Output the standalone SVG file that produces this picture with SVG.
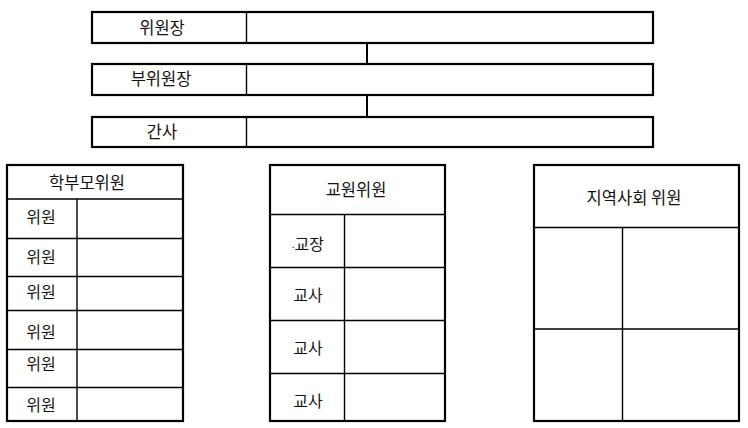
<svg xmlns="http://www.w3.org/2000/svg" width="748" height="428" viewBox="0 0 748 428">
<style>
.outer{fill:#fff;stroke:#000;stroke-width:2.2}
.inner{stroke:#000;stroke-width:1.4;fill:none}
.conn{stroke:#000;stroke-width:2;fill:none}
text{font-family:"Noto Sans CJK KR","Noto Sans",sans-serif;font-size:16px;fill:#111;text-anchor:middle;dominant-baseline:central}
.hd{font-size:16.5px}
.top{font-size:16.5px}
</style>
<rect width="748" height="428" fill="#fff"/>
<g id="connectors">
<line class="conn" x1="367" y1="43" x2="367" y2="64"/>
<line class="conn" x1="367" y1="95" x2="367" y2="117"/>
</g>
<g id="chair">
<rect class="outer" x="92" y="12" width="561" height="31"/>
<line class="inner" x1="246.5" y1="12" x2="246.5" y2="43"/>
<text class="top" x="162" y="26.5">위원장</text>
</g>
<g id="vice-chair">
<rect class="outer" x="92" y="64" width="561" height="31"/>
<line class="inner" x1="246.5" y1="64" x2="246.5" y2="95"/>
<text class="top" x="161" y="78">부위원장</text>
</g>
<g id="secretary">
<rect class="outer" x="92" y="117" width="561" height="30"/>
<line class="inner" x1="246.5" y1="117" x2="246.5" y2="147"/>
<text class="top" x="162" y="130.5">간사</text>
</g>
<g id="parents">
<rect class="outer" x="7" y="165" width="176" height="256"/>
<line class="inner" x1="7" y1="199" x2="183" y2="199"/>
<line class="inner" x1="77" y1="199" x2="77" y2="421"/>
<line class="inner" x1="7" y1="238.5" x2="183" y2="238.5"/>
<line class="inner" x1="7" y1="276.5" x2="183" y2="276.5"/>
<line class="inner" x1="7" y1="310.5" x2="183" y2="310.5"/>
<line class="inner" x1="7" y1="349.5" x2="183" y2="349.5"/>
<line class="inner" x1="7" y1="387.5" x2="183" y2="387.5"/>
<text class="hd" x="87" y="182">학부모위원</text>
<text x="41" y="216">위원</text>
<text x="41" y="256">위원</text>
<text x="41" y="291">위원</text>
<text x="41" y="331">위원</text>
<text x="41" y="363">위원</text>
<text x="41" y="404">위원</text>
</g>
<g id="teachers">
<rect class="outer" x="270" y="165" width="175" height="256"/>
<line class="inner" x1="270" y1="214.5" x2="445" y2="214.5"/>
<line class="inner" x1="344.5" y1="214.5" x2="344.5" y2="421"/>
<line class="inner" x1="270" y1="267.5" x2="445" y2="267.5"/>
<line class="inner" x1="270" y1="320.5" x2="445" y2="320.5"/>
<line class="inner" x1="270" y1="373.5" x2="445" y2="373.5"/>
<text class="hd" x="356" y="189">교원위원</text>
<text x="324" y="243" style="text-anchor:end"><tspan font-size="10">.</tspan>교장</text>
<text x="308" y="294">교사</text>
<text x="308" y="347">교사</text>
<text x="308" y="400">교사</text>
</g>
<g id="community">
<rect class="outer" x="534" y="165" width="205" height="256"/>
<line class="inner" x1="534" y1="227.5" x2="739" y2="227.5"/>
<line class="inner" x1="622.5" y1="227.5" x2="622.5" y2="421"/>
<line class="inner" x1="534" y1="329" x2="739" y2="329"/>
<text class="hd" x="634" y="197">지역사회 위원</text>
</g>
</svg>
